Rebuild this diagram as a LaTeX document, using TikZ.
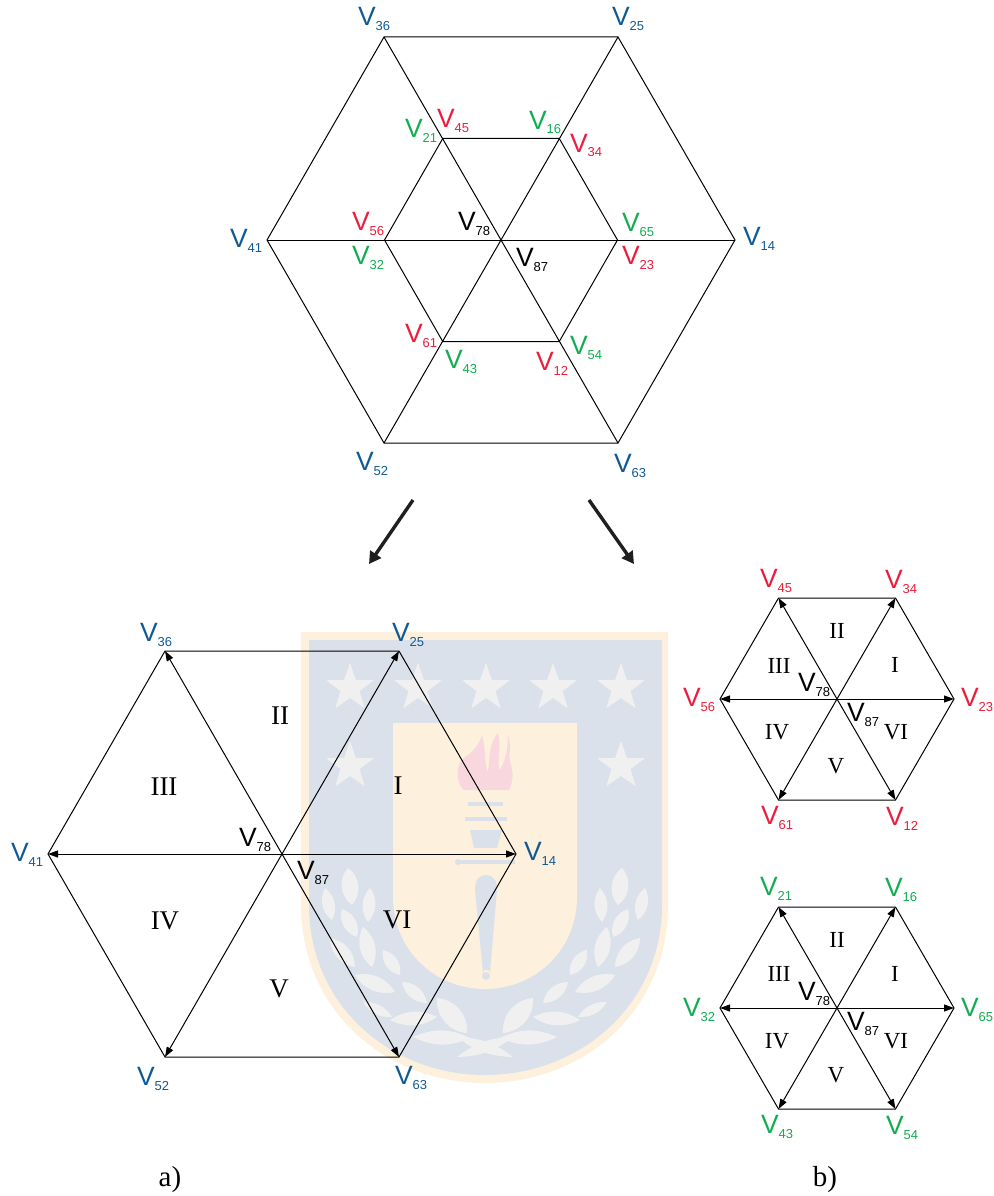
\documentclass[tikz,border=0pt]{standalone}
\usepackage{fontspec}
\setmainfont{Liberation Sans}
\newfontfamily\romanf{Liberation Serif}
\usetikzlibrary{arrows.meta,shapes.geometric}
\definecolor{vblue}{HTML}{0F5A94}
\definecolor{vred}{HTML}{EC1C3C}
\definecolor{vgreen}{HTML}{12AD50}
\definecolor{wmorange}{HTML}{FDF0DC}
\definecolor{wmblue}{HTML}{DAE1EA}
\definecolor{wmgrey}{HTML}{F0F0F0}
\definecolor{wmpink}{HTML}{F8D8DE}
\tikzset{
  edge/.style={line width=1pt,black},
  vec/.style={line width=1pt,black,-{Triangle[length=10pt,width=7pt]}},
  bigarrow/.style={line width=3.4pt,black!88,-{Triangle[length=12pt,width=13pt]}},
  vlab/.style={anchor=base west,inner sep=0pt,outer sep=0pt},
  secbig/.style={font=\romanf\fontsize{27}{27}\selectfont,inner sep=0pt},
  secsmall/.style={font=\romanf\fontsize{23}{23}\selectfont,inner sep=0pt},
  caption/.style={font=\romanf\fontsize{29}{29}\selectfont,inner sep=0pt},
  wmstar/.style={star,star points=5,star point ratio=2.5,fill=wmgrey,minimum size=50pt,inner sep=0pt},
  leaf/.style={fill=wmgrey,draw=none}
}
% name, colour, subscript, x, y (left edge and baseline of the V)
\newcommand\vtag[5]{\node[vlab,text=#2] (#1) at (#4,#5)
  {\fontsize{26.5}{26.5}\selectfont V\raisebox{-5pt}{\fontsize{13}{13}\selectfont #3}};}
% prefix, cx, cy, half width, height
\newcommand\hexcoords[5]{
  \coordinate (#1c) at (#2,#3);
  \coordinate (#1r) at ({#2+#4},#3);
  \coordinate (#1l) at ({#2-#4},#3);
  \coordinate (#1ur) at ({#2+#4/2},{#3-#5});
  \coordinate (#1ul) at ({#2-#4/2},{#3-#5});
  \coordinate (#1dr) at ({#2+#4/2},{#3+#5});
  \coordinate (#1dl) at ({#2-#4/2},{#3+#5});
}
\newcommand\vechex[1]{
  \draw[edge] (#1ul)--(#1ur)--(#1r)--(#1dr)--(#1dl)--(#1l)--cycle;
  \foreach \t in {ul,ur,l,r,dl,dr}{\draw[vec] (#1c)--(#1\t);}
}
\newcommand\leaves{
  \foreach \ax/\ay/\bx/\by/\bn in {
    348/868/352/905/50, 325/888/332/920/40, 370/888/368/922/40,
    342/909/357/937/45, 363/927/372/967/40, 330/938/355/967/40,
    383/950/400/975/45, 355/975/395/992/35, 402/982/427/1003/40,
    363/1002/392/1017/30, 390/1020/437/1017/30, 437/998/467/1033/45,
    413/1037/470/1038/25, 457/1057/513/1037/18}{
    \fill[leaf] (\ax,\ay) to[bend left=\bn] (\bx,\by) to[bend left=\bn] (\ax,\ay);
  }
}
\begin{document}
\begin{tikzpicture}[x=1pt,y=-1pt]
\useasboundingbox (0,0) rectangle (993,1196);
% watermark shield
\fill[wmorange] (301,632)--(668,632)--(668,905) .. controls (668,1010) and (585,1083) .. (485,1083) .. controls (385,1083) and (301,1010) .. (301,905) -- cycle;
\fill[wmblue] (309,640)--(662,640)--(662,905) .. controls (662,1005) and (580,1075) .. (485,1075) .. controls (390,1075) and (309,1005) .. (309,905) -- cycle;
\fill[wmorange] (393,723)--(577,723)--(577,897) .. controls (577,950) and (535,989) .. (485,989) .. controls (435,989) and (393,950) .. (393,897) -- cycle;
\foreach \i/\x/\y in {1/350/688,2/418/688,3/486/688,4/553/688,5/621/688,6/350/766,7/621/766}{
  \node[wmstar] (star\i) at (\x,\y) {};
}
% flame
\fill[wmpink] (464,790) .. controls (458,785) and (456,775) .. (459,765) .. controls (462,755) and (476,755) .. (482,735) .. controls (486,748) and (484,765) .. (488,772) .. controls (490,760) and (488,745) .. (498,733) .. controls (502,748) and (496,765) .. (500,770) .. controls (506,760) and (508,748) .. (508,735) .. controls (512,748) and (508,755) .. (510,762) .. controls (514,772) and (513,782) .. (509,790) -- cycle;
% torch
\fill[wmblue] (468,802) rectangle (503,806);
\fill[wmblue] (465,817) rectangle (507,821);
\fill[wmblue] (470,830)--(502,830)--(497,848)--(474,848)--cycle;
\fill[wmblue] (458,860) rectangle (515,864);
\fill[wmblue] (458,862) circle[radius=3];
\fill[wmblue] (486,875) .. controls (479,875) and (475,880) .. (475,890) -- (483,973) arc[start angle=180,end angle=360,radius=3.5] -- (497,890) .. controls (497,880) and (493,875) .. (486,875) -- cycle;
\fill[wmblue] (486,976) circle[radius=4];
% laurels
\leaves
\begin{scope}[shift={(970,0)},xscale=-1]
\leaves
\end{scope}
% top hexagon
\hexcoords{o}{501}{240}{234}{203}
\hexcoords{i}{501}{240}{116.5}{101.5}
\draw[edge] (oul)--(our)--(or)--(odr)--(odl)--(ol)--cycle;
\draw[edge] (oul)--(odr);
\draw[edge] (our)--(odl);
\draw[edge] (ol)--(or);
\draw[edge] (iul)--(iur)--(ir)--(idr)--(idl)--(il)--cycle;
% arrows between panels
\coordinate (aLs) at (413,500);
\coordinate (aLe) at (369,564);
\coordinate (aRs) at (589,500);
\coordinate (aRe) at (634,564);
\draw[bigarrow] (aLs)--(aLe);
\draw[bigarrow] (aRs)--(aRe);
% panels
\hexcoords{a}{282}{854}{234}{203}
\vechex{a}
\hexcoords{b}{837}{699}{117}{101}
\vechex{b}
\hexcoords{d}{837}{1008}{117}{101}
\vechex{d}
% top labels
\vtag{t36}{vblue}{36}{358}{26}
\vtag{t25}{vblue}{25}{612}{26}
\vtag{t41}{vblue}{41}{230}{247}
\vtag{t14}{vblue}{14}{743}{245}
\vtag{t52}{vblue}{52}{356}{470}
\vtag{t63}{vblue}{63}{614}{472}
\vtag{t21}{vgreen}{21}{405}{138}
\vtag{t45}{vred}{45}{437}{128}
\vtag{t16}{vgreen}{16}{529}{129}
\vtag{t34}{vred}{34}{570}{152}
\vtag{t56}{vred}{56}{352}{230}
\vtag{t32}{vgreen}{32}{352}{264}
\vtag{t78}{black}{78}{458}{230}
\vtag{t87}{black}{87}{516}{266}
\vtag{t65}{vgreen}{65}{622}{231}
\vtag{t23}{vred}{23}{622}{264}
\vtag{t61}{vred}{61}{405}{342}
\vtag{t43}{vgreen}{43}{445}{368}
\vtag{t12}{vred}{12}{536}{370}
\vtag{t54}{vgreen}{54}{570}{354}
% panel a labels
\vtag{a36}{vblue}{36}{140}{641}
\vtag{a25}{vblue}{25}{392}{641}
\vtag{a41}{vblue}{41}{11}{861}
\vtag{a14}{vblue}{14}{524}{860}
\vtag{a52}{vblue}{52}{137}{1085}
\vtag{a63}{vblue}{63}{395}{1084}
\vtag{a78}{black}{78}{239}{846}
\vtag{a87}{black}{87}{297}{879}
\node[secbig] (a2) at (280,716) {II};
\node[secbig] (a3) at (164,787) {III};
\node[secbig] (a1) at (398,786) {I};
\node[secbig] (a4) at (165,921) {IV};
\node[secbig] (a6) at (397,920) {VI};
\node[secbig] (a5) at (279,989) {V};
% panel b upper labels
\vtag{b45}{vred}{45}{760}{587}
\vtag{b34}{vred}{34}{885}{588}
\vtag{b56}{vred}{56}{683}{706}
\vtag{b23}{vred}{23}{961}{706}
\vtag{b78}{black}{78}{798}{691}
\vtag{b87}{black}{87}{847}{721}
\vtag{b61}{vred}{61}{761}{824}
\vtag{b12}{vred}{12}{886}{825}
\node[secsmall] (b2) at (837,631) {II};
\node[secsmall] (b3) at (779,666) {III};
\node[secsmall] (b1) at (895,665) {I};
\node[secsmall] (b4) at (777,732) {IV};
\node[secsmall] (b6) at (896,732) {VI};
\node[secsmall] (b5) at (836,766) {V};
% panel b lower labels
\vtag{d21}{vgreen}{21}{760}{895}
\vtag{d16}{vgreen}{16}{885}{896}
\vtag{d32}{vgreen}{32}{683}{1016}
\vtag{d65}{vgreen}{65}{961}{1016}
\vtag{d78}{black}{78}{798}{1000}
\vtag{d87}{black}{87}{847}{1030}
\vtag{d43}{vgreen}{43}{761}{1133}
\vtag{d54}{vgreen}{54}{886}{1134}
\node[secsmall] (d2) at (837,940) {II};
\node[secsmall] (d3) at (779,974) {III};
\node[secsmall] (d1) at (895,974) {I};
\node[secsmall] (d4) at (777,1041) {IV};
\node[secsmall] (d6) at (896,1041) {VI};
\node[secsmall] (d5) at (836,1075) {V};
% captions
\node[caption] (capa) at (170,1180) {a)};
\node[caption] (capb) at (825,1180) {b)};
\end{tikzpicture}
\end{document}
